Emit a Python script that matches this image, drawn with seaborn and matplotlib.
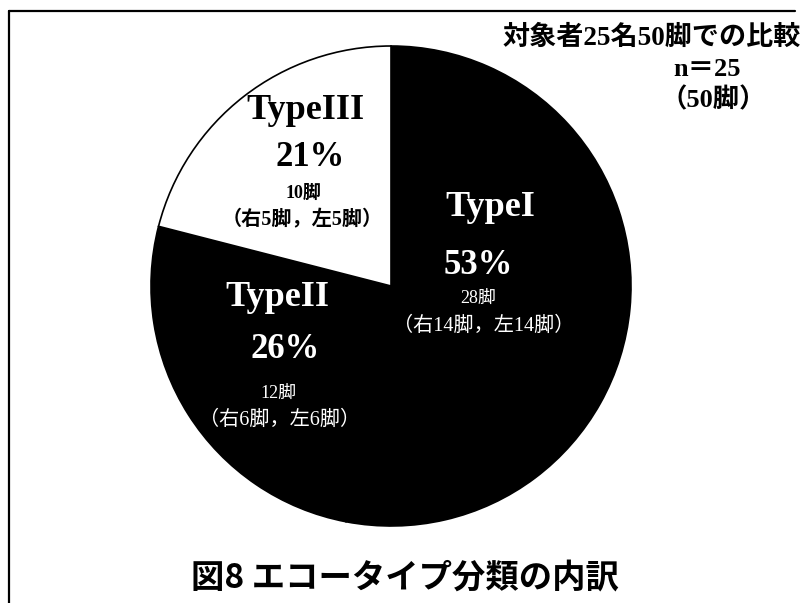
import matplotlib
matplotlib.use("Agg")
import matplotlib.pyplot as plt
from matplotlib.lines import Line2D
import seaborn as sns

# === Data ===
types = ["TypeI", "TypeII", "TypeIII"]
percents = [53, 26, 21]
legs = [28, 12, 10]
right_legs = [14, 6, 5]
left_legs = [14, 6, 5]
colors = ["black", "black", "white"]

sns.set_theme(style="white")
plt.rcParams['font.family'] = ['Noto Sans CJK JP', 'DejaVu Sans']
plt.rcParams['text.color'] = 'black'

SERIF = ['Liberation Serif', 'Noto Sans CJK JP']
W, H = 808, 603

fig = plt.figure(figsize=(W / 100, H / 100), dpi=100)
fig.patch.set_facecolor("white")

# pie axes: center ~(391, 286) px, radius ~240 px
ax = fig.add_axes([151 / W, 1 - 526 / H, 480 / W, 480 / H])
ax.pie(percents, colors=colors, startangle=90, counterclock=False,
       wedgeprops=dict(edgecolor="black", linewidth=1.2))
ax.set_xlim(-1, 1)
ax.set_ylim(-1, 1)
ax.axis("off")


def ftext(x, y, s, **kw):
    kw.setdefault("color", "black")
    fig.text(x / W, 1 - y / H, s, ha="center", va="center", **kw)


# === Slice labels (pixel positions) ===
label_pos = {
    "TypeI": ((490, 208), (478, 265), (478, 298), (484, 326), "white", "normal"),
    "TypeII": ((277, 298), (285, 350), (278, 393), (280, 420), "white", "normal"),
    "TypeIII": ((305, 110), (310, 158), (303, 193), (302, 220), "black", "bold"),
}
for t, p, n, r, l in zip(types, percents, legs, right_legs, left_legs):
    p_name, p_pct, p_n, p_rl, col, wt = label_pos[t]
    ftext(*p_name, t, color=col, fontsize=26, fontweight="bold", family=SERIF)
    ftext(*p_pct, f"{p}%", color=col, fontsize=25, fontweight="bold", family=SERIF)
    ftext(*p_n, f"{n}脚", color=col, fontsize=13, fontweight=wt, family=SERIF)
    ftext(*p_rl, f"（右{r}脚，左{l}脚）", color=col, fontsize=14.5,
          fontweight=wt, family=SERIF)

# === Header notes ===
fig.text(801 / W, 1 - 38 / H, "対象者25名50脚での比較", ha="right", va="center",
         fontsize=19.5, fontweight="bold", family=SERIF, color="black")
ftext(707, 70, "n＝25", fontsize=19, fontweight="bold", family=SERIF)
ftext(713, 100, "（50脚）", fontsize=19, fontweight="bold", family=SERIF)

# === Title ===
ftext(405, 578, "図8 エコータイプ分類の内訳", fontsize=24, fontweight="bold")

# === Frame (left and top edges) ===
fig.add_artist(Line2D([9 / W, 9 / W], [0, 1 - 11 / H], color="black", lw=1.6,
                      transform=fig.transFigure))
fig.add_artist(Line2D([9 / W, 795 / W], [1 - 11 / H, 1 - 11 / H], color="black",
                      lw=1.6, transform=fig.transFigure))

fig.savefig("out.png", dpi=100)
